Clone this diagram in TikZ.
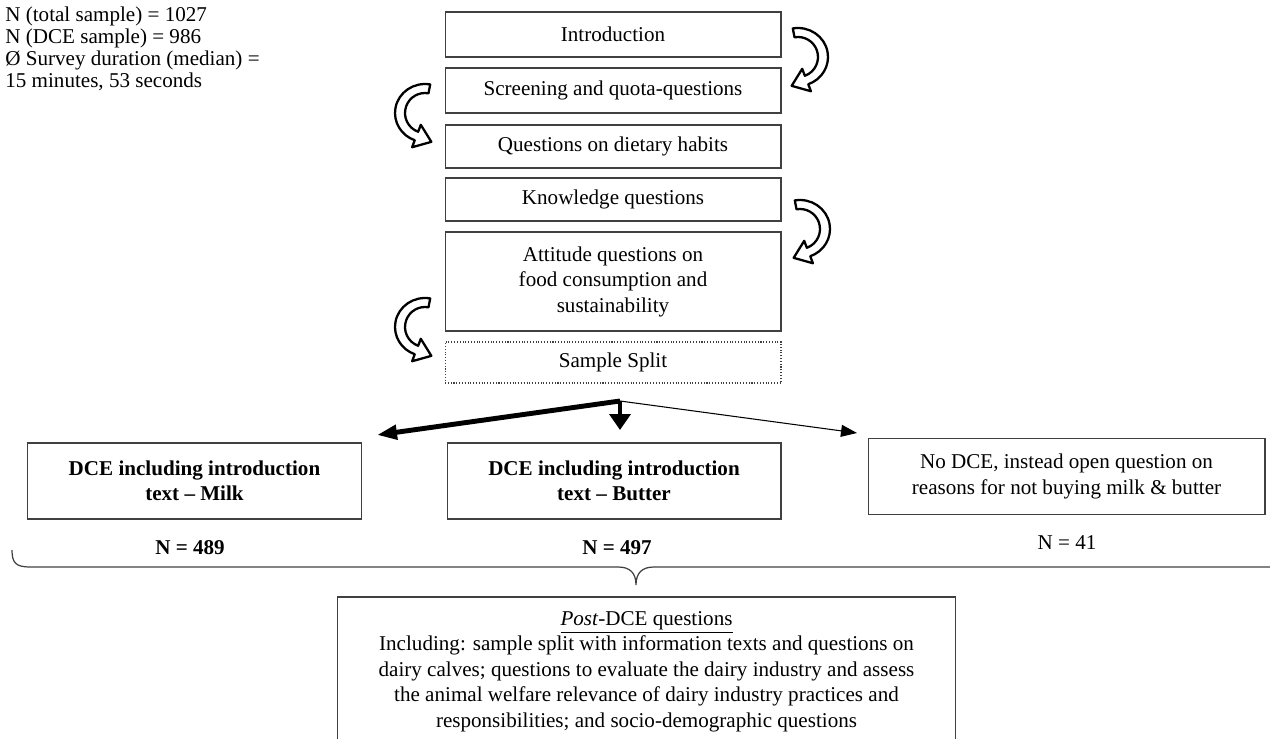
\documentclass[tikz,border=0pt,12pt]{standalone}
\usepackage{fontspec}
\setmainfont{Liberation Serif}
\usetikzlibrary{arrows.meta}
\tikzset{
  stepbox/.style={draw=black!75,line width=.6pt,minimum width=6.72cm,minimum height=.9cm,inner sep=2pt,align=center},
  armbox/.style={stepbox,minimum height=1.52cm},
  boldbox/.style={armbox,font=\bfseries},
  nlab/.style={font=\bfseries},
  infotext/.style={anchor=north west,inner sep=0pt,align=left,font=\fontsize{12}{12.4}\selectfont},
  postbox/.style={anchor=north,minimum width=12.34cm,inner ysep=8pt,align=center},
  frame/.style={draw=black!75,line width=.6pt},
  hollow/.style={draw=black,line width=1.3pt,fill=white,line join=round},
  heavyleg/.style={line width=2.8pt,-{Triangle[length=4mm,width=2.8mm]}},
  midleg/.style={line width=2.2pt,-{Triangle[length=3.2mm,width=4.2mm]}},
  thinleg/.style={line width=.6pt,-{Triangle[length=3.2mm,width=2.4mm]}},
  brace/.style={draw=black!75,line width=.7pt},
  turnarrow/.pic={
    \draw[hollow] (100:0.6cm and 0.58cm) arc[start angle=100,end angle=-70,x radius=0.6cm,y radius=0.58cm]
      -- (0.258cm,-0.685cm) -- (-0.127cm,-0.577cm) -- (0.084cm,-0.237cm)
      -- (-70:0.40cm and 0.40cm) arc[start angle=-70,end angle=100,x radius=0.40cm,y radius=0.40cm] -- cycle;
  }
}
\begin{document}
\begin{tikzpicture}[x=0.02cm,y=-0.02cm]
  \useasboundingbox (0,0) rectangle (1270,739);
  % sample info
  \node[infotext] (info) at (5,7) {N (total sample) = 1027\\ N (DCE sample) = 986\\ Ø Survey duration (median) =\\ 15 minutes, 53 seconds};

  % survey blocks
  \node[stepbox] (intro) at (613,34.5) {Introduction};
  \node[stepbox] (screen) at (613,90.5) {Screening and quota-questions};
  \node[stepbox,minimum height=.86cm] (diet) at (613,146.5) {Questions on dietary habits};
  \node[stepbox,minimum height=.86cm] (know) at (613,199.5) {Knowledge questions};
  \node[stepbox,minimum height=1.98cm] (attit) at (613,281.5) {Attitude questions on\\ food consumption and\\ sustainability};
  \node[stepbox,densely dotted,minimum height=.82cm] (split) at (613,362.5) {Sample Split};

  % turning arrows
  \pic at (798,57) {turnarrow};
  \pic[xscale=-1] at (425,113) {turnarrow};
  \pic at (800,229) {turnarrow};
  \pic[xscale=-1] at (425,327) {turnarrow};

  % split into the three groups
  \coordinate (fork) at (620,401);
  \coordinate (tomilk) at (377,435);
  \coordinate (tobutter) at (620,430);
  \coordinate (tonodce) at (857,433);
  \draw[heavyleg] (fork) -- (tomilk);
  \draw[midleg] (fork) -- (tobutter);
  \draw[thinleg] (fork) -- (tonodce);

  \node[boldbox,minimum width=6.7cm] (milk) at (194.5,481) {DCE including introduction\\ text – Milk};
  \node[boldbox,minimum width=6.68cm] (butter) at (614,481) {DCE including introduction\\ text – Butter};
  \node[armbox,minimum width=7.94cm] (nodce) at (1066.5,476.5) {No DCE, instead open question on\\ reasons for not buying milk \& butter};

  \node[nlab] (nmilk) at (190,548) {N = 489};
  \node[nlab] (nbutter) at (617,548) {N = 497};
  \node (nnodce) at (1067,543) {N = 41};

  % brace over all groups
  \draw[brace] (12,550) .. controls (12,563) and (16,567) .. (30,567) -- (618,567)
    .. controls (630,567) and (636,573) .. (636,585)
    .. controls (636,573) and (642,567) .. (654,567) -- (1270,567);

  % post questions
  \node[postbox] (post) at (646.5,597) {\underline{\textit{Post}-DCE questions}\\
    Including: sample split with information texts and questions on\\
    dairy calves; questions to evaluate the dairy industry and assess\\
    the animal welfare relevance of dairy industry practices and\\
    responsibilities; and socio-demographic questions};
  \coordinate (foot) at (0,739);
  \draw[frame] (post.north west |- foot) -- (post.north west) -- (post.north east) -- (post.north east |- foot);
\end{tikzpicture}
\end{document}
